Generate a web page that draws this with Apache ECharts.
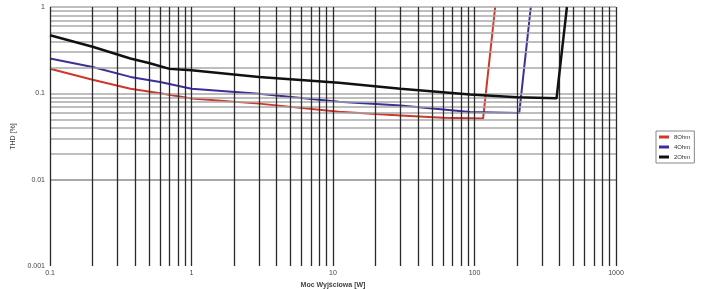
<!DOCTYPE html>
<html><head><meta charset="utf-8">
<script src="https://cdn.jsdelivr.net/npm/echarts@6/dist/echarts.min.js"></script>
<style>html,body{margin:0;padding:0;background:#fff}#c{width:705px;height:289px}</style>
</head><body><div id="c"></div>
<script>
var xTickLabels = ['0.1','1','10','100','1000'];
var yTickLabels = ['0.001','0.01','0.1','1'];
var seriesNames = ['8Ohm','4Ohm','2Ohm'];
var power8 = [0.1,0.2,0.37,0.6,1,3,11,30,60,115,140];
var thd8   = [0.193,0.144,0.113,0.1,0.087,0.076,0.061,0.0555,0.052,0.051,1];
var power4 = [0.1,0.2,0.37,0.6,1,3,11,30,93,207,250];
var thd4   = [0.253,0.202,0.155,0.135,0.113,0.099,0.08,0.0725,0.0606,0.059,1];
var power2 = [0.1,0.2,0.37,0.5,0.7,1,3,11,30,93,200,380,450];
var thd2   = [0.47,0.346,0.253,0.225,0.192,0.185,0.155,0.133,0.113,0.097,0.09,0.0875,1];

function pairs(xs, ys){ return xs.map(function(x,i){return [x, ys[i]];}); }
var gridX = [], gridY = [];
[0.1,1,10,100].forEach(function(d){ for(var m=1;m<=9;m++){ gridX.push(+(d*m).toPrecision(3)); } });
gridX.push(1000);
[0.001,0.01,0.1].forEach(function(d){ for(var m=1;m<=9;m++){ gridY.push(+(d*m).toPrecision(3)); } });
gridY.push(1);

var chart = echarts.init(document.getElementById('c'), null, {renderer:'canvas'});
var font = 'Liberation Sans';
chart.setOption({
  animation:false,
  backgroundColor:'#fff',
  grid:{left:50,right:89,top:7,bottom:23,show:false,containLabel:false,outerBoundsMode:'none'},
  legend:{
    orient:'vertical', left:656, top:131, itemWidth:10, itemHeight:3, itemGap:4,
    padding:[3,4,3,3], borderColor:'#888', borderWidth:1,
    textStyle:{fontFamily:font,fontSize:6,color:'#333'},
    data:seriesNames.map(function(n){return {name:n, icon:'rect'};})
  },
  xAxis:{
    type:'log', logBase:10, min:0.1, max:1000,
    name:'Moc Wyjściowa [W]', nameLocation:'middle', nameGap:12,
    nameTextStyle:{fontFamily:font,fontSize:7,color:'#444',fontWeight:'bold'},
    axisLine:{show:false}, axisTick:{show:false}, splitLine:{show:false},
    axisLabel:{fontFamily:font,fontSize:7,color:'#444',margin:4,
      formatter:function(v){ var s=String(+v.toPrecision(3)); return xTickLabels.indexOf(s)>=0?s:''; }}
  },
  yAxis:{
    type:'log', logBase:10, min:0.001, max:1,
    name:'THD [%]', nameLocation:'middle', nameGap:33, nameRotate:90,
    nameTextStyle:{fontFamily:font,fontSize:7,color:'#444'},
    axisLine:{show:false}, axisTick:{show:false}, splitLine:{show:false},
    axisLabel:{fontFamily:font,fontSize:7,color:'#444',margin:5,
      formatter:function(v){ var s=String(+v.toPrecision(3)); return yTickLabels.indexOf(s)>=0?s:''; }}
  },
  series:[
    {name:'grid', type:'line', data:[], silent:true,
      markLine:{silent:true, symbol:'none', animation:false, label:{show:false},
        data: gridY.map(function(v){return {yAxis:v, lineStyle:{color:'#a8a8a8',width:1.5,type:'solid'}};})
          .concat(gridX.map(function(v){return {xAxis:v, lineStyle:{color:'#2a2a2a',width:1.3,type:'solid'}};}))
      }},
    {name:seriesNames[0], type:'line', data:pairs(power8,thd8), showSymbol:false, symbol:'none', color:'#d0382b', lineStyle:{width:2}, z:3},
    {name:seriesNames[1], type:'line', data:pairs(power4,thd4), showSymbol:false, symbol:'none', color:'#3b2f9a', lineStyle:{width:2}, z:4},
    {name:seriesNames[2], type:'line', data:pairs(power2,thd2), showSymbol:false, symbol:'none', color:'#111111', lineStyle:{width:2.5}, z:5}
  ]
});
</script></body></html>
